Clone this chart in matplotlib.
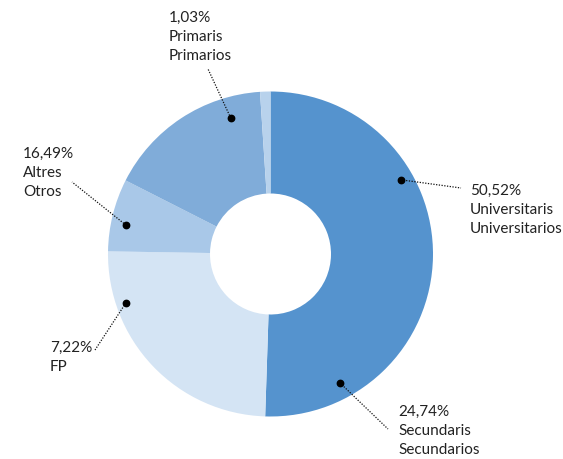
import matplotlib
matplotlib.use("Agg")
import matplotlib.pyplot as plt
import numpy as np

# Share of each education level (%), clockwise from 12 o'clock
categories = ["Universitaris", "Secundaris", "FP", "Altres", "Primaris"]
values = [50.52, 24.74, 7.22, 16.49, 1.03]
colors = ["#5593ce", "#d4e4f4", "#a9c8e8", "#80acd9", "#b8d2ec"]

# Callout texts (value, Catalan, Spanish) as printed next to the ring
label_texts = [
    "50,52%\nUniversitaris\nUniversitarios",
    "24,74%\nSecundaris\nSecundarios",
    "7,22%\nFP",
    "16,49%\nAltres\nOtros",
    "1,03%\nPrimaris\nPrimarios",
]

W, H = 563, 460
fig = plt.figure(figsize=(W / 100, H / 100), dpi=100)
ax = fig.add_axes([0, 0, 1, 1])
ax.set_xlim(0, W)
ax.set_ylim(0, H)
ax.set_aspect("equal")
ax.axis("off")

cx, cy = 270.5, H - 255
R = 162.5
ring = R - 60.5

ax.pie(values, colors=colors, startangle=90, counterclock=False,
       center=(cx, cy), radius=R,
       wedgeprops=dict(width=ring, linewidth=0))
ax.set_xlim(0, W)
ax.set_ylim(0, H)

# Callout geometry: dot (angle in degrees, radius fraction), leader end, text anchor
dots = [(29.7, 0.922), (-61.7, 0.90), (198.7, 0.94), (168.7, 0.907), (106.3, 0.872)]
leader_ends = [(461, 189), (388, 430), (95, 351), (72, 183), (208, 70)]
text_pos = [(470, 184), (398, 405), (50, 341), (23, 147), (169, 11)]

for txt, (ang, fr), (lx, ly), (tx, ty) in zip(label_texts, dots, leader_ends, text_pos):
    a = np.deg2rad(ang)
    px = cx + fr * R * np.cos(a)
    py = cy + fr * R * np.sin(a)
    ax.plot([px, lx], [py, H - ly], color="#111111", lw=0.9, ls=(0, (1, 1.2)))
    ax.plot(px, py, "o", color="#000000", ms=4.6)
    ax.text(tx, H - ty, txt, ha="left", va="top", fontsize=11,
            family="Lato", color="#222222", linespacing=1.47)

fig.savefig("out.png", dpi=100)
